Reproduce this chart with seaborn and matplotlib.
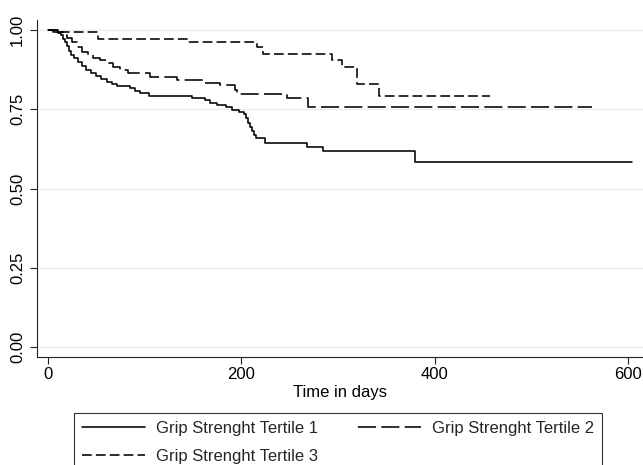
import matplotlib
matplotlib.use("Agg")
import matplotlib.pyplot as plt
import seaborn as sns
from matplotlib.lines import Line2D

# ---- data (Kaplan-Meier step curves) ----
t1_days = [0, 5, 10, 13, 16, 18, 20, 22, 24, 27, 31, 35, 39, 44, 50, 55, 61, 66, 71, 85,
           90, 95, 104, 149, 162, 168, 175, 184, 190, 197, 203, 205, 207, 209, 211, 213,
           215, 224, 268, 284, 380, 604]
t1_surv = [1.0, 0.995, 0.99, 0.984, 0.972, 0.962, 0.950, 0.934, 0.921, 0.912, 0.900,
           0.886, 0.874, 0.864, 0.855, 0.846, 0.836, 0.830, 0.823, 0.817, 0.808, 0.801,
           0.792, 0.785, 0.779, 0.770, 0.763, 0.757, 0.748, 0.742, 0.735, 0.722, 0.707,
           0.694, 0.681, 0.668, 0.659, 0.644, 0.631, 0.618, 0.584, 0.584]

t2_days = [0, 10, 15, 20, 25, 30, 35, 41, 47, 54, 61, 67, 74, 83, 105, 133, 160, 178,
           193, 195, 247, 269, 563]
t2_surv = [1.0, 0.994, 0.984, 0.975, 0.962, 0.946, 0.931, 0.921, 0.912, 0.905, 0.896,
           0.883, 0.874, 0.864, 0.852, 0.842, 0.833, 0.826, 0.811, 0.798, 0.785, 0.757,
           0.757]

t3_days = [0, 10, 52, 145, 216, 222, 294, 304, 320, 342, 457]
t3_surv = [1.0, 0.994, 0.972, 0.962, 0.946, 0.924, 0.905, 0.883, 0.830, 0.792, 0.792]

series_labels = ["Grip Strenght Tertile 1", "Grip Strenght Tertile 2", "Grip Strenght Tertile 3"]
y_ticks = [0.0, 0.25, 0.5, 0.75, 1.0]
y_ticklabels = ["0.00", "0.25", "0.50", "0.75", "1.00"]
x_ticks = [0, 200, 400, 600]
x_label = "Time in days"

# ---- style ----
sns.set_theme(style="white")
plt.rcParams["font.family"] = ["Liberation Sans", "DejaVu Sans"]
plt.rcParams["lines.scale_dashes"] = False

fig = plt.figure(figsize=(6.43, 4.65), dpi=100)
ax = fig.add_axes([37 / 643, 108 / 465, 606 / 643, 337 / 465])

styles = [
    "-",
    (0, (13.0, 3.8)),
    (0, (7.0, 3.0)),
]
data = [(t1_days, t1_surv), (t2_days, t2_surv), (t3_days, t3_surv)]
lw = 1.15
for (d, s), ls, lab in zip(data, styles, series_labels):
    sns.lineplot(x=d, y=s, ax=ax, drawstyle="steps-post", estimator=None, sort=False,
                 color="black", linestyle=ls, linewidth=lw, label=lab, legend=False)

ax.set_xlim(-11.4, 615.3)
ax.set_ylim(-0.0315, 1.0315)

ax.set_yticks(y_ticks)
ax.set_yticklabels(y_ticklabels, rotation=90, va="center")
ax.set_xticks(x_ticks)
ax.grid(axis="y", color="#e6eef0", linewidth=1.0)
ax.grid(axis="x", visible=False)
ax.set_axisbelow(True)

for side in ["top", "right"]:
    ax.spines[side].set_visible(False)
for side in ["left", "bottom"]:
    ax.spines[side].set_color("#222222")
    ax.spines[side].set_linewidth(0.8)

ax.tick_params(axis="both", which="major", length=5, width=0.8, color="#222222",
               labelsize=12, labelcolor="black", direction="out")
ax.tick_params(axis="x", pad=2.5)
ax.tick_params(axis="y", pad=3.5, left=True)
ax.tick_params(axis="x", bottom=True)

ax.set_xlabel(x_label, fontsize=12, labelpad=2, color="black")
ax.set_ylabel("")

# legend: order so that row1 = T1, T2 ; row2 = T3
handles = [Line2D([], [], color="black", linestyle=ls, linewidth=lw) for ls in styles]
order = [0, 2, 1]
leg = fig.legend([handles[i] for i in order], [series_labels[i] for i in order],
                 loc="upper left", bbox_to_anchor=(74 / 643, 1 - 413 / 465),
                 bbox_transform=fig.transFigure, ncol=2, fontsize=12,
                 frameon=True, fancybox=False, shadow=False, framealpha=1,
                 edgecolor="#333333", borderaxespad=0, borderpad=0.45,
                 handlelength=3.8, handletextpad=0.66, columnspacing=2.4,
                 labelspacing=0.8)
leg.get_frame().set_linewidth(0.8)

fig.savefig("out.png", dpi=100, facecolor="white")
